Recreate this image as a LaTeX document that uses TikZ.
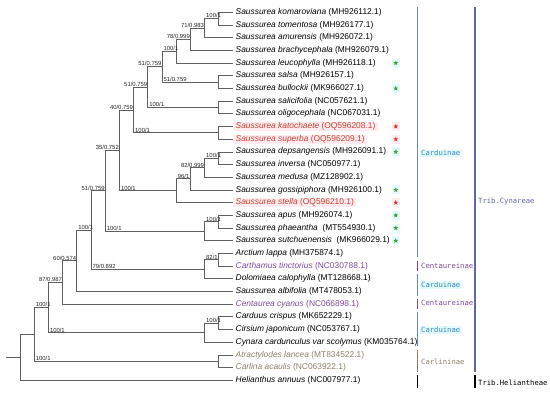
\documentclass[tikz,border=0pt]{standalone}
\usepackage{fontspec}
\setmainfont{Liberation Sans}
\newfontfamily\grpfont{DejaVu Sans Mono}
\usetikzlibrary{shapes.geometric}
\definecolor{treegray}{HTML}{606060}
\definecolor{spred}{HTML}{C8412E}
\definecolor{sppurple}{HTML}{7E4A9E}
\definecolor{spbrown}{HTML}{8C8068}
\definecolor{pinkbg}{HTML}{FFEBF0}
\definecolor{cyanbg}{HTML}{E2FBFB}
\definecolor{cardblue}{HTML}{3A86C8}
\definecolor{barblue}{HTML}{6688CC}
\definecolor{tribblue}{HTML}{6464AA}
\definecolor{stargreen}{HTML}{4A9A3E}
\begin{document}
\begin{tikzpicture}[x=1pt,y=-1pt,
  br/.style={draw=treegray, line width=0.75pt},
  leaf/.style={anchor=west, inner xsep=2.5pt, inner ysep=0.6pt, text height=6pt, text depth=1.8pt, font=\fontsize{8.4}{9}\selectfont},
  redleaf/.style={leaf, text=spred, fill=pinkbg},
  purleaf/.style={leaf, text=sppurple},
  brnleaf/.style={leaf, text=spbrown},
  lab/.style={inner sep=0.4pt, font=\fontsize{5.9}{6}\selectfont, text=black!85},
  labl/.style={lab, anchor=south west},
  labr/.style={lab, anchor=south east},
  gstar/.style={star, star points=5, star point ratio=2.3, minimum size=5.2pt, inner sep=0pt, fill=stargreen},
  rstar/.style={gstar, fill=spred},
  gbg/.style={fill=cyanbg, minimum width=7.5pt, minimum height=9pt, inner sep=0pt},
  rbg/.style={gbg, fill=pinkbg},
  grp/.style={anchor=west, inner xsep=1.5pt, inner ysep=1pt, font=\grpfont\fontsize{7.2}{8}\selectfont},
  gbar/.style={line width=1.1pt}
]
\useasboundingbox (0,0) rectangle (550,397);

% ---------- leaves ----------
\node[leaf] (l1) at (233,12.30) {\textit{Saussurea komaroviana} (MH926112.1)};
\node[leaf] (l2) at (233,24.99) {\textit{Saussurea tomentosa} (MH926177.1)};
\node[leaf] (l3) at (233,37.68) {\textit{Saussurea amurensis} (MH926072.1)};
\node[leaf] (l4) at (233,50.37) {\textit{Saussurea brachycephala} (MH926079.1)};
\node[leaf] (l5) at (233,63.06) {\textit{Saussurea leucophylla} (MH926118.1)};
\node[leaf] (l6) at (233,75.75) {\textit{Saussurea salsa} (MH926157.1)};
\node[leaf] (l7) at (233,88.44) {\textit{Saussurea bullockii} (MK966027.1)};
\node[leaf] (l8) at (233,101.13) {\textit{Saussurea salicifolia} (NC057621.1)};
\node[leaf] (l9) at (233,113.82) {\textit{Saussurea oligocephala} (NC067031.1)};
\node[redleaf] (l10) at (233,126.51) {\textit{Saussurea katochaete} (OQ596208.1)};
\node[redleaf] (l11) at (233,139.20) {\textit{Saussurea superba} (OQ596209.1)};
\node[leaf] (l12) at (233,151.89) {\textit{Saussurea depsangensis} (MH926091.1)};
\node[leaf] (l13) at (233,164.58) {\textit{Saussurea inversa} (NC050977.1)};
\node[leaf] (l14) at (233,177.27) {\textit{Saussurea medusa} (MZ128902.1)};
\node[leaf] (l15) at (233,189.96) {\textit{Saussurea gossipiphora} (MH926100.1)};
\node[redleaf] (l16) at (233,202.65) {\textit{Saussurea stella} (OQ596210.1)};
\node[leaf] (l17) at (233,215.34) {\textit{Saussurea apus} (MH926074.1)};
\node[leaf] (l18) at (233,228.03) {\textit{Saussurea phaeantha}\ \ (MT554930.1)};
\node[leaf] (l19) at (233,240.72) {\textit{Saussurea sutchuenensis}\ \ (MK966029.1)};
\node[leaf] (l20) at (233,253.41) {\textit{Arctium lappa} (MH375874.1)};
\node[purleaf] (l21) at (233,266.10) {\textit{Carthamus tinctorius} (NC030788.1)};
\node[leaf] (l22) at (233,278.79) {\textit{Dolomiaea calophylla} (MT128668.1)};
\node[leaf] (l23) at (233,291.48) {\textit{Saussurea albifolia} (MT478053.1)};
\node[purleaf] (l24) at (233,304.17) {\textit{Centaurea cyanus} (NC066898.1)};
\node[leaf] (l25) at (233,316.86) {\textit{Carduus crispus} (MK652229.1)};
\node[leaf] (l26) at (233,329.55) {\textit{Cirsium japonicum} (NC053767.1)};
\node[leaf] (l27) at (233,342.24) {\textit{Cynara cardunculus var scolymus} (KM035764.1)};
\node[brnleaf] (l28) at (233,354.93) {\textit{Atractylodes lancea} (MT834522.1)};
\node[brnleaf] (l29) at (233,367.62) {\textit{Carlina acaulis} (NC063922.1)};
\node[leaf] (l30) at (233,380.31) {\textit{Helianthus annuus} (NC007977.1)};

% ---------- internal nodes ----------
\coordinate (kt) at (218.8,18.645);
\coordinate (kta) at (204.6,28.16);
\coordinate (ktab) at (190.4,39.27);
\coordinate (nl) at (176.2,51.16);
\coordinate (sb) at (218.8,82.10);
\coordinate (nA) at (162.0,66.63);
\coordinate (so) at (218.8,107.48);
\coordinate (nB) at (147.8,87.05);
\coordinate (ks) at (218.8,132.86);
\coordinate (nC) at (133.6,109.95);
\coordinate (di) at (218.8,158.24);
\coordinate (dim) at (204.6,167.75);
\coordinate (dimg) at (190.4,178.86);
\coordinate (nE) at (176.2,190.75);
\coordinate (nD) at (119.4,150.35);
\coordinate (ap) at (218.8,221.69);
\coordinate (aps) at (204.6,231.20);
\coordinate (nF) at (105.2,190.78);
\coordinate (ac) at (218.8,259.76);
\coordinate (acd) at (204.6,269.27);
\coordinate (nG) at (91.0,230.03);
\coordinate (nH) at (76.8,260.75);
\coordinate (nI) at (62.6,282.46);
\coordinate (cc) at (218.8,323.21);
\coordinate (ccc) at (204.6,332.72);
\coordinate (nJ) at (48.4,307.59);
\coordinate (at) at (218.8,361.28);
\coordinate (nK) at (34.2,334.43);
\coordinate (root) at (20.0,357.37);
\coordinate (stub) at (5.8,357.37);

% ---------- branches ----------
\draw[br] (stub) -- (root);
\draw[br] (root) |- (nK);  \draw[br] (root) |- (l30.west);
\draw[br] (nK) |- (nJ);    \draw[br] (nK) |- (at);
\draw[br] (at) |- (l28.west); \draw[br] (at) |- (l29.west);
\draw[br] (nJ) |- (nI);    \draw[br] (nJ) |- (ccc);
\draw[br] (ccc) |- (cc);   \draw[br] (ccc) |- (l27.west);
\draw[br] (cc) |- (l25.west); \draw[br] (cc) |- (l26.west);
\draw[br] (nI) |- (nH);    \draw[br] (nI) |- (l24.west);
\draw[br] (nH) |- (nG);    \draw[br] (nH) |- (l23.west);
\draw[br] (nG) |- (nF);    \draw[br] (nG) |- (acd);
\draw[br] (acd) |- (ac);   \draw[br] (acd) |- (l22.west);
\draw[br] (ac) |- (l20.west); \draw[br] (ac) |- (l21.west);
\draw[br] (nF) |- (nD);    \draw[br] (nF) |- (aps);
\draw[br] (aps) |- (ap);   \draw[br] (aps) |- (l19.west);
\draw[br] (ap) |- (l17.west); \draw[br] (ap) |- (l18.west);
\draw[br] (nD) |- (nC);    \draw[br] (nD) |- (nE);
\draw[br] (nE) |- (dimg);  \draw[br] (nE) |- (l16.west);
\draw[br] (dimg) |- (dim); \draw[br] (dimg) |- (l15.west);
\draw[br] (dim) |- (di);   \draw[br] (dim) |- (l14.west);
\draw[br] (di) |- (l12.west); \draw[br] (di) |- (l13.west);
\draw[br] (nC) |- (nB);    \draw[br] (nC) |- (ks);
\draw[br] (ks) |- (l10.west); \draw[br] (ks) |- (l11.west);
\draw[br] (nB) |- (nA);    \draw[br] (nB) |- (so);
\draw[br] (so) |- (l8.west); \draw[br] (so) |- (l9.west);
\draw[br] (nA) |- (nl);    \draw[br] (nA) |- (sb);
\draw[br] (sb) |- (l6.west); \draw[br] (sb) |- (l7.west);
\draw[br] (nl) |- (ktab);  \draw[br] (nl) |- (l5.west);
\draw[br] (ktab) |- (kta); \draw[br] (ktab) |- (l4.west);
\draw[br] (kta) |- (kt);   \draw[br] (kta) |- (l3.west);
\draw[br] (kt) |- (l1.west); \draw[br] (kt) |- (l2.west);

% ---------- support labels ----------
\node[labl] (t-kt) at (205.6,18.645) {100/1};
\node[labr] (t-kta) at (204.6,28.16) {71/0.983};
\node[labr] (t-ktab) at (190.4,39.27) {78/0.999};
\node[labl] (t-nl) at (163.0,51.16) {100/1};
\node[labl] (t-sb) at (163.0,82.10) {51/0.759};
\node[labr] (t-nA) at (162.0,66.63) {51/0.759};
\node[labl] (t-so) at (148.8,107.48) {100/1};
\node[labr] (t-nB) at (147.8,87.05) {51/0.759};
\node[labl] (t-ks) at (134.6,132.86) {100/1};
\node[labr] (t-nC) at (133.6,109.95) {40/0.759};
\node[labl] (t-di) at (205.6,158.24) {100/1};
\node[labr] (t-dim) at (204.6,167.75) {82/0.999};
\node[labl] (t-dimg) at (177.2,178.86) {96/1};
\node[labl] (t-nE) at (120.4,190.75) {100/1};
\node[labr] (t-nD) at (119.4,150.35) {35/0.752};
\node[labl] (t-ap) at (205.6,221.69) {100/1};
\node[labl] (t-aps) at (106.2,231.20) {100/1};
\node[labr] (t-nF) at (105.2,190.78) {51/0.759};
\node[labl] (t-ac) at (205.6,259.76) {82/1};
\node[labl] (t-acd) at (92.0,269.27) {79/0.892};
\node[labl] (t-nG) at (77.8,230.03) {100/1};
\node[labr] (t-nH) at (76.8,260.75) {60/0.574};
\node[labr] (t-nI) at (62.6,282.46) {87/0.987};
\node[labl] (t-cc) at (205.6,323.21) {100/1};
\node[labl] (t-ccc) at (49.4,332.72) {100/1};
\node[labl] (t-nJ) at (35.2,307.59) {100/1};
\node[labl] (t-at) at (35.2,361.28) {100/1};

% ---------- stars ----------
\foreach \i/\y in {5/63.06, 7/88.44, 12/151.89, 15/189.96, 17/215.34, 18/228.03, 19/240.72}{
  \node[gbg] (gb\i) at (395.8,\y) {};
  \node[gstar] (gs\i) at (395.8,\y) {};
}
\foreach \i/\y in {10/126.51, 11/139.20, 16/202.65}{
  \node[rbg] (rb\i) at (395.8,\y) {};
  \node[rstar] (rs\i) at (395.8,\y) {};
}

% ---------- group bars ----------
\draw[gbar, barblue] (417.7,7.0) -- (417.7,256.5);
\draw[gbar, sppurple] (417.7,260.5) -- (417.7,270.5);
\draw[gbar, barblue] (417.7,273.5) -- (417.7,295.5);
\draw[gbar, sppurple] (417.7,298.5) -- (417.7,308.5);
\draw[gbar, barblue] (417.7,311.5) -- (417.7,345.5);
\draw[gbar, spbrown] (417.7,349.5) -- (417.7,372.0);
\draw[gbar, black] (417.7,375.0) -- (417.7,388.0);
\draw[gbar, tribblue] (475.0,7.0) -- (475.0,372.0);
\draw[gbar, black] (475.0,375.0) -- (475.0,388.0);

\node[grp, text=cardblue, fill=cyanbg] (g1) at (419.5,153.3) {Carduinae};
\node[grp, text=sppurple] (g2) at (419.5,266.0) {Centaureinae};
\node[grp, text=cardblue, fill=cyanbg] (g3) at (419.5,285.0) {Carduinae};
\node[grp, text=sppurple] (g4) at (419.5,303.0) {Centaureinae};
\node[grp, text=cardblue, fill=cyanbg] (g5) at (419.5,330.0) {Carduinae};
\node[grp, text=spbrown] (g6) at (419.5,361.7) {Carlininae};
\node[grp, text=tribblue] (g7) at (476.5,201.7) {Trib.Cynareae};
\node[grp, text=black] (g8) at (476.5,382.3) {Trib.Heliantheae};
\end{tikzpicture}
\end{document}
